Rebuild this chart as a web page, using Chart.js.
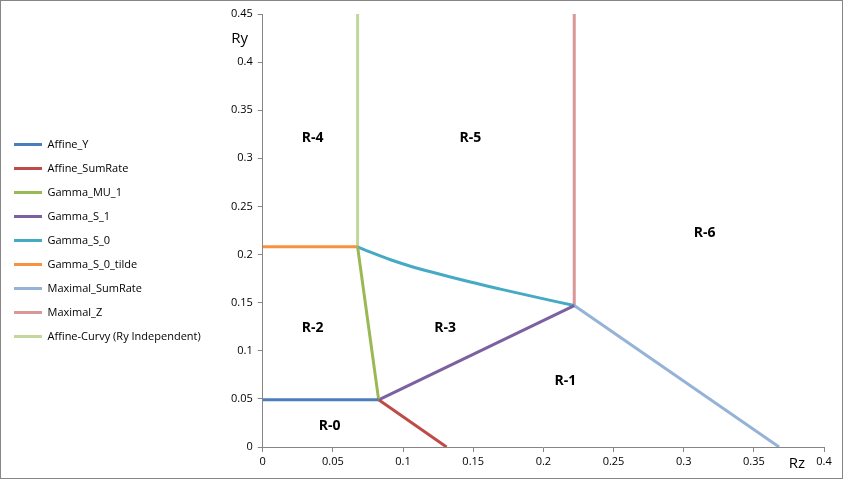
<!DOCTYPE html>
<html>
<head>
<meta charset="utf-8">
<script src="https://cdn.jsdelivr.net/npm/chart.js@4"></script>
<style>
  html, body { margin: 0; padding: 0; background: #fff; }
  #wrap { width: 843px; height: 479px; position: relative; }
</style>
</head>
<body>
<div id="wrap"><canvas id="chart"></canvas></div>
<script>
// Rate region boundaries, [Rz, Ry] pairs
var seriesNames = ["Affine_Y", "Affine_SumRate", "Gamma_MU_1", "Gamma_S_1", "Gamma_S_0",
    "Gamma_S_0_tilde", "Maximal_SumRate", "Maximal_Z", "Affine-Curvy (Ry Independent)"];
var affineY = [[0, 0.049], [0.0826, 0.049]];
var affineSumRate = [[0.0826, 0.049], [0.131, 0]];
var gammaMu1 = [[0.0826, 0.049], [0.0676, 0.208]];
var gammaS1 = [[0.0826, 0.049], [0.222, 0.147]];
var gammaS0 = [[0.0676, 0.208], [0.0769, 0.2025], [0.0911, 0.1946], [0.1053, 0.1879],
    [0.1196, 0.1821], [0.148, 0.1714], [0.1694, 0.1641], [0.1979, 0.1547], [0.222, 0.147]];
var gammaS0Tilde = [[0, 0.208], [0.0676, 0.208]];
var maximalSumRate = [[0.222, 0.147], [0.368, 0]];
var maximalZ = [[0.222, 0.147], [0.222, 0.45]];
var affineCurvy = [[0.0676, 0.208], [0.0676, 0.45]];
var seriesColors = ["#4A7EBB", "#BE4B48", "#98B954", "#7D60A0", "#46AAC5",
    "#F69240", "#95B3D7", "#D99795", "#C3D69B"];

// axis ticks
var xTicks = [0, 0.05, 0.1, 0.15, 0.2, 0.25, 0.3, 0.35, 0.4];
var xTickLabels = ["0", "0.05", "0.1", "0.15", "0.2", "0.25", "0.3", "0.35", "0.4"];
var yTicks = [0, 0.05, 0.1, 0.15, 0.2, 0.25, 0.3, 0.35, 0.4, 0.45];
var yTickLabels = ["0", "0.05", "0.1", "0.15", "0.2", "0.25", "0.3", "0.35", "0.4", "0.45"];

// region names, placed in data units
var regionNames = ["R-0", "R-1", "R-2", "R-3", "R-4", "R-5", "R-6"];
var regionX = [0.0477, 0.2157, 0.0356, 0.130, 0.0356, 0.148, 0.315];
var regionY = [0.0219, 0.0688, 0.124, 0.124, 0.321, 0.321, 0.222];

var allSeries = [affineY, affineSumRate, gammaMu1, gammaS1, gammaS0,
    gammaS0Tilde, maximalSumRate, maximalZ, affineCurvy];

var FONT = "'Open Sans', 'Noto Sans', sans-serif";
var AXIS_GRAY = "#868686";

function toPoints(arr) {
    return arr.map(function(p) { return { x: p[0], y: p[1] }; });
}

var datasets = allSeries.map(function(s, i) {
    return {
        label: seriesNames[i],
        data: toPoints(s),
        showLine: true,
        borderColor: seriesColors[i],
        backgroundColor: seriesColors[i],
        borderWidth: 3,
        pointRadius: 0,
        pointHoverRadius: 0,
        pointStyle: "line",
        tension: s.length > 2 ? 0.3 : 0
    };
});

var annotations = {
    id: "annotations",
    beforeDraw: function(chart) {
        var ctx = chart.ctx;
        ctx.save();
        ctx.fillStyle = "#fff";
        ctx.fillRect(0, 0, chart.width, chart.height);
        ctx.restore();
    },
    afterDraw: function(chart) {
        var ctx = chart.ctx;
        var xs = chart.scales.x, ys = chart.scales.y, area = chart.chartArea;
        ctx.save();
        ctx.fillStyle = "#000";
        ctx.textAlign = "center";
        ctx.textBaseline = "middle";
        ctx.font = "bold 14px " + FONT;
        regionNames.forEach(function(name, i) {
            ctx.fillText(name, xs.getPixelForValue(regionX[i]), ys.getPixelForValue(regionY[i]));
        });
        // axis titles
        ctx.font = "15px " + FONT;
        ctx.fillText("Ry", area.left - 23, area.top + 25);
        ctx.fillText("Rz", area.right - 27, area.bottom + 17);
        // outer frame
        ctx.strokeStyle = AXIS_GRAY;
        ctx.lineWidth = 1;
        ctx.strokeRect(0.5, 0.5, chart.width - 1, chart.height - 1);
        ctx.restore();
    }
};

new Chart(document.getElementById("chart"), {
    type: "scatter",
    data: { datasets: datasets },
    plugins: [annotations],
    options: {
        responsive: true,
        maintainAspectRatio: false,
        animation: false,
        layout: { padding: { top: 14, right: 19, bottom: 12, left: 1 } },
        plugins: {
            tooltip: { enabled: false },
            legend: {
                position: "left",
                align: "center",
                labels: {
                    usePointStyle: true,
                    pointStyleWidth: 28,
                    padding: 13,
                    color: "#000",
                    font: { family: FONT, size: 11 }
                }
            }
        },
        scales: {
            x: {
                type: "linear",
                min: 0,
                max: 0.4,
                afterBuildTicks: function(s) { s.ticks = xTicks.map(function(v) { return { value: v }; }); },
                afterFit: function(s) { s.height = 20; },
                ticks: {
                    color: "#000",
                    padding: 3,
                    maxRotation: 0,
                    font: { family: FONT, size: 11 },
                    callback: function(v) { return xTickLabels[xTicks.indexOf(v)]; }
                },
                grid: { drawOnChartArea: false, drawTicks: true, tickLength: 5, color: AXIS_GRAY },
                border: { display: true, color: AXIS_GRAY }
            },
            y: {
                type: "linear",
                min: 0,
                max: 0.45,
                afterBuildTicks: function(s) { s.ticks = yTicks.map(function(v) { return { value: v }; }); },
                afterFit: function(s) { s.width = 56; },
                ticks: {
                    color: "#000",
                    padding: 5,
                    font: { family: FONT, size: 11 },
                    callback: function(v) { return yTickLabels[yTicks.indexOf(v)]; }
                },
                grid: { drawOnChartArea: false, drawTicks: true, tickLength: 5, color: AXIS_GRAY },
                border: { display: true, color: AXIS_GRAY }
            }
        }
    }
});
</script>
</body>
</html>
